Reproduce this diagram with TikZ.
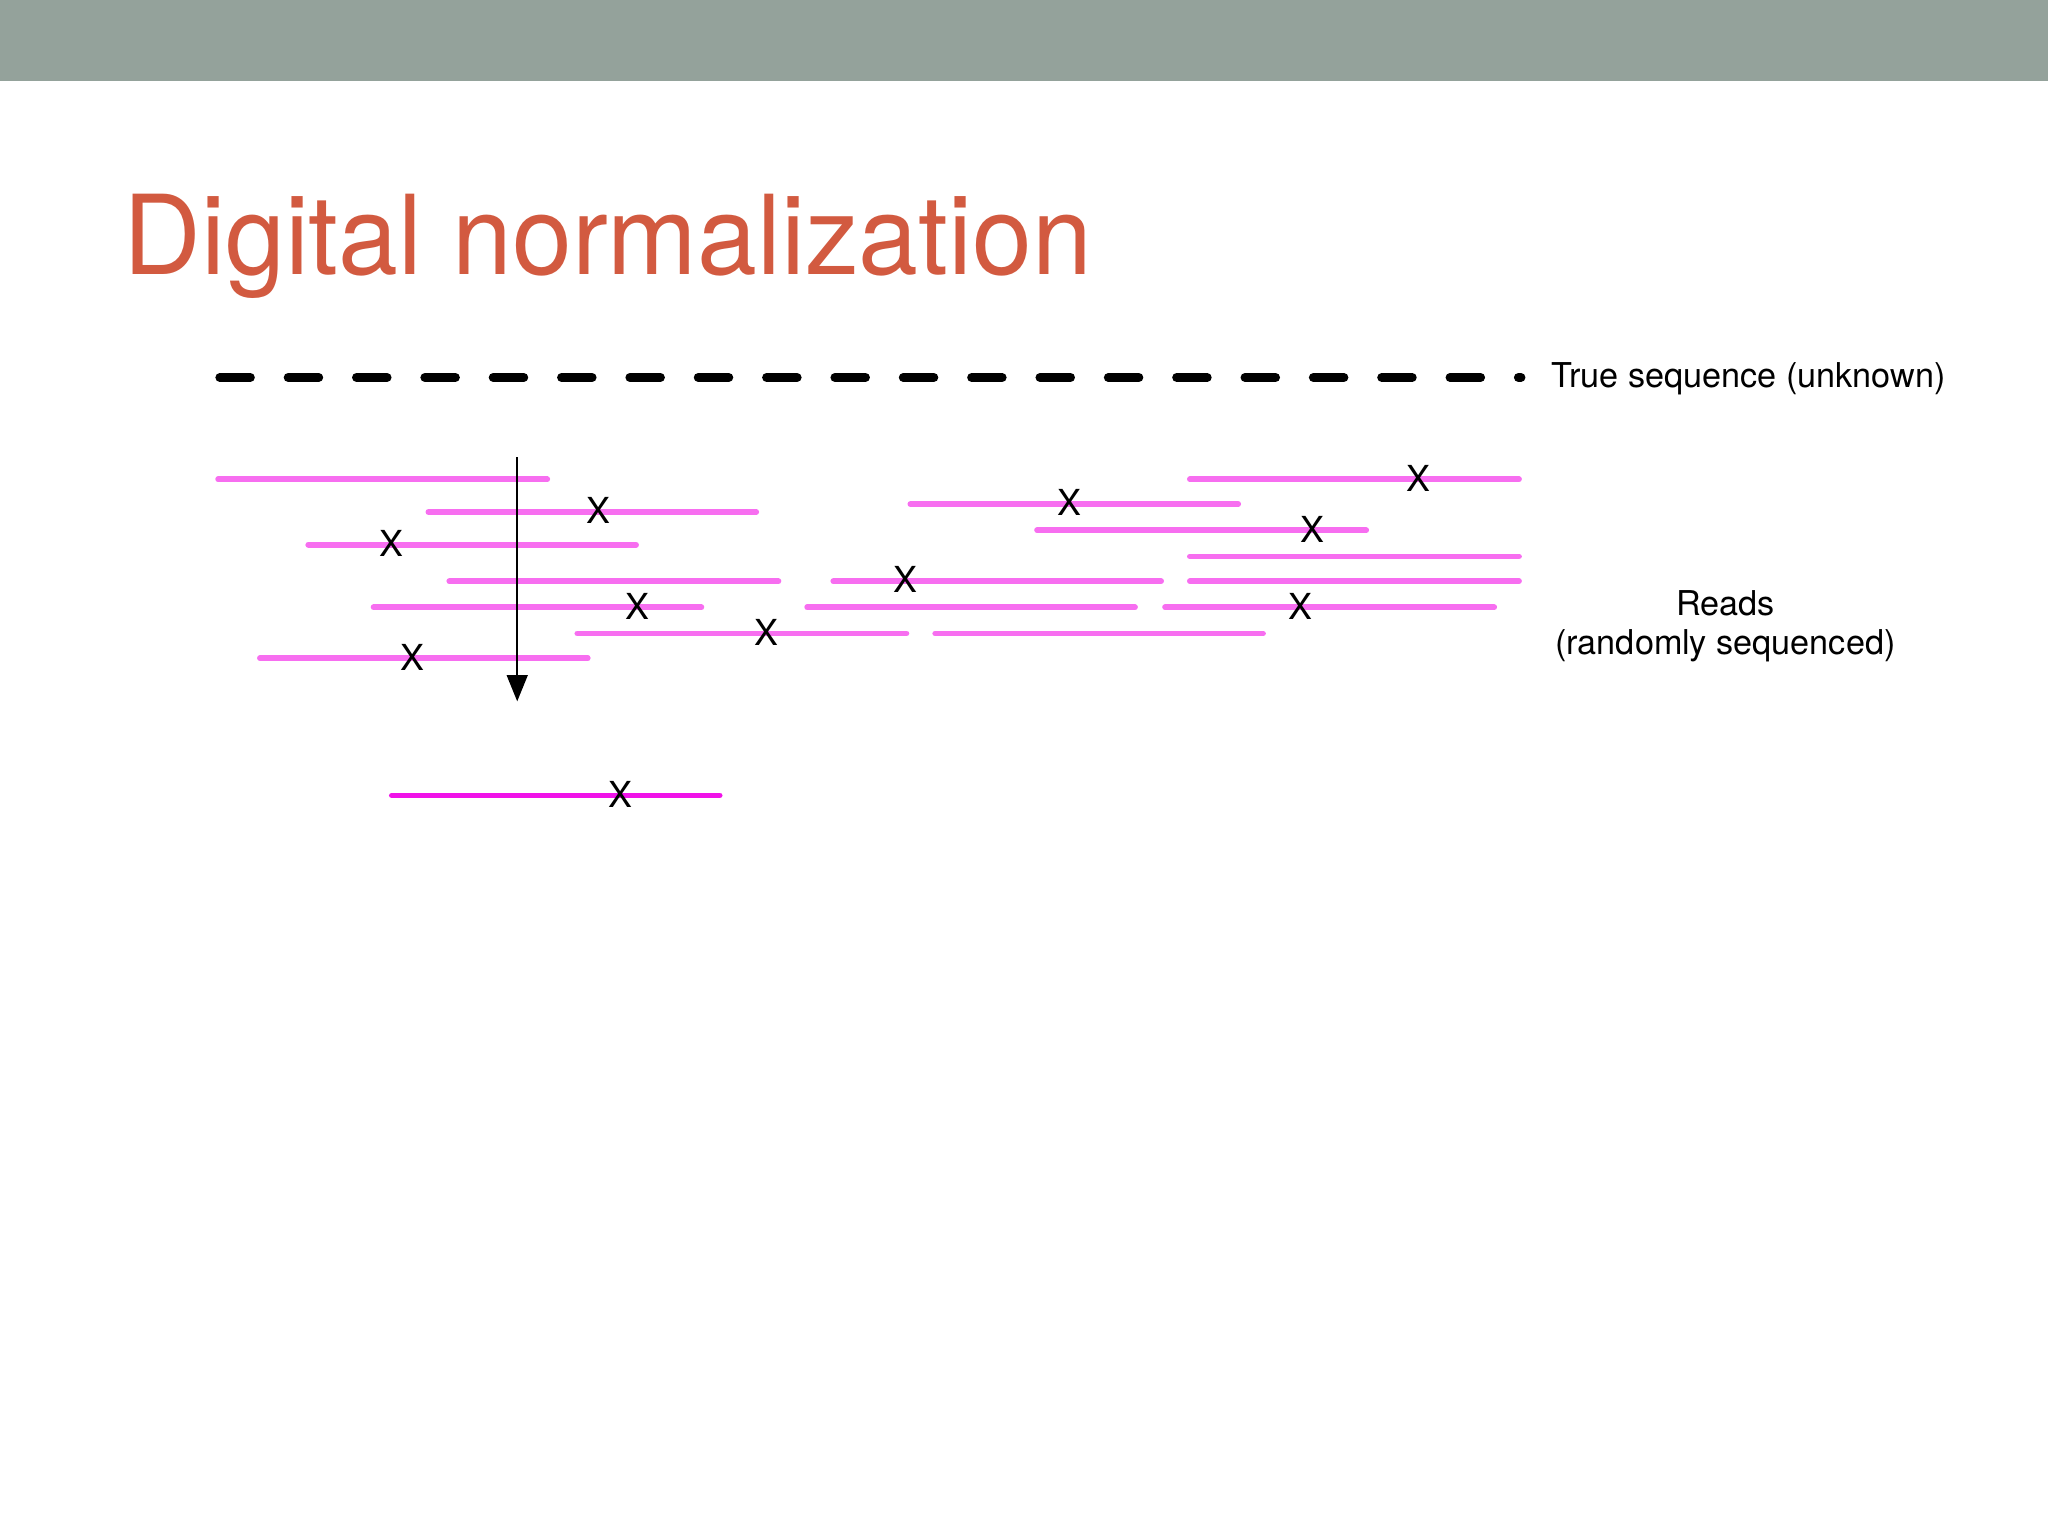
\documentclass[tikz,border=0pt]{standalone}
\usepackage{fontspec}
\setmainfont{TeX Gyre Heros}
\usetikzlibrary{arrows.meta}
\definecolor{bargray}{HTML}{94A29B}
\definecolor{titlered}{HTML}{D25A40}
\definecolor{readpink}{HTML}{F76EF0}
\definecolor{readmag}{HTML}{F012E8}
\begin{document}
\begin{tikzpicture}[x=0.01cm,y=-0.01cm,
  readline/.style={line width=1.25pt, line cap=round, draw=readpink},
  keptline/.style={line width=1.25pt, line cap=round, draw=readmag},
  xmark/.style={font=\fontsize{7.8}{8}\selectfont, inner sep=0pt},
  lbl/.style={font=\fontsize{7.45}{9}\selectfont, inner sep=0pt},
  trueseq/.style={line width=1.95pt, line cap=round, dash pattern=on 6.65pt off 8.23pt}]
\useasboundingbox (0,0) rectangle (1568,1176);
\fill[bargray] (0,0) rectangle (1568,62);
\node[anchor=base west, inner sep=0pt, text=titlered, xscale=0.976, font=\fontsize{24}{28}\selectfont] (title) at (94,210) {Digital normalization};
% true sequence
\coordinate (ts1) at (168.3,289);
\coordinate (ts2) at (1164.5,289);
\draw[trueseq] (ts1) -- (ts2);
\node[lbl, anchor=base west] (tslabel) at (1187,297) {True sequence (unknown)};
% reads
\draw[readline] (167,367) -- (419,367);
\draw[readline] (911,367) -- (1163,367);
\draw[readline] (697,386) -- (948,386);
\draw[readline] (328,392) -- (579,392);
\draw[readline] (794,406) -- (1046,406);
\draw[readline] (236,417) -- (487,417);
\draw[readline] (911,426) -- (1163,426);
\draw[readline] (344,445) -- (596,445);
\draw[readline] (638,445) -- (889,445);
\draw[readline] (911,445) -- (1163,445);
\draw[readline] (286,465) -- (537,465);
\draw[readline] (618,465) -- (869,465);
\draw[readline] (892,465) -- (1144,465);
\draw[readline] (442,485) -- (694,485);
\draw[readline] (716,485) -- (967,485);
\draw[readline] (199,504) -- (450,504);
% errors
\node[xmark] (x1) at (1086,366) {X};
\node[xmark] (x2) at (819,385) {X};
\node[xmark] (x3) at (458,391) {X};
\node[xmark] (x4) at (1005,405) {X};
\node[xmark] (x5) at (300,416) {X};
\node[xmark] (x6) at (693,444) {X};
\node[xmark] (x7) at (488,464) {X};
\node[xmark] (x8) at (996,464) {X};
\node[xmark] (x9) at (587,484) {X};
\node[xmark] (x10) at (316,503) {X};
% arrow
\coordinate (arrtop) at (396,350);
\coordinate (arrbot) at (396,537);
\draw[line width=0.5pt, -{Triangle[length=5.7pt, width=4.5pt]}] (arrtop) -- (arrbot);
% kept read
\draw[keptline] (300,609) -- (551,609);
\node[xmark] (x11) at (475,608) {X};
% label
\node[lbl, anchor=base] (reads1) at (1321,471) {Reads};
\node[lbl, anchor=base] (reads2) at (1321,501) {(randomly sequenced)};
\end{tikzpicture}
\end{document}
